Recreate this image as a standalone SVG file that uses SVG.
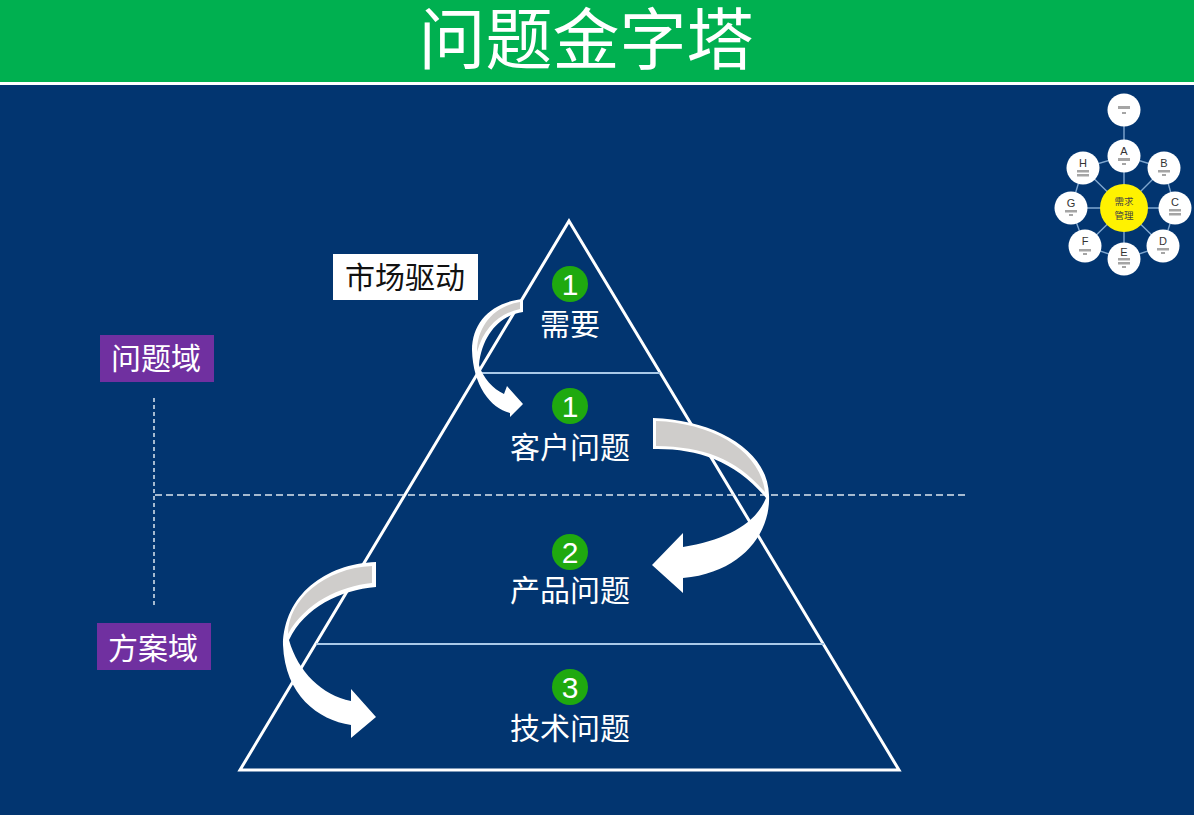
<svg xmlns="http://www.w3.org/2000/svg" width="1194" height="815" viewBox="0 0 1194 815">
<style>
text{font-family:"Noto Sans CJK SC","Noto Sans",sans-serif;text-anchor:middle}
.lbl{font-size:30px;fill:#fff}
.num{font-size:30px;fill:#fff;font-family:"Liberation Sans",sans-serif}
.badge{fill:#1FA90F}
.thin{stroke:#A9C9E8;stroke-width:2;fill:none}
.dash{stroke:#DDE6F0;stroke-width:1.5;fill:none}
.white{fill:#fff}
.grey{fill:#CFCDCB}
.hub{stroke:#7FA6CF;stroke-width:1.4;fill:none}
.sat{fill:#fff}
.let{font-size:11px;fill:#333;font-family:"Liberation Sans",sans-serif}
.mark{fill:#a5a5a5}
</style>
<rect width="1194" height="815" fill="#023570"/>
<g id="header">
<rect width="1194" height="82" fill="#00B050"/>
<rect y="82" width="1194" height="3" fill="#fff"/>
<text x="586" y="64" font-size="67" fill="#fff">问题金字塔</text>
</g>
<g id="pyramid">
<path d="M569 221L899 770H240Z" fill="none" stroke="#fff" stroke-width="3"/>
</g>
<g id="connectors">
<path class="thin" d="M480 373H660M316 644H824"/>
<path class="dash" d="M155 495H965" stroke-dasharray="7 4"/>
<path class="dash" d="M154 398V605" stroke-dasharray="4 3"/>
<path class="white" d="M523 299L523 312C500 315 482 335 479 365C483 378 493 389 504 394L507 386L523 404L510 417L510 413C490 408 473 385 472 350C472 322 492 302 523 299Z"/>
<path class="grey" d="M520 302L520 309C498 314 484 328 477 352C477 326 494 306 520 302Z"/>
<path class="white" d="M653 418C715 420 768 450 769 495C771 530 745 572 683 578V593L652 565L683 533V547C725 540 755 525 766 498C735 460 695 448 653 449Z"/>
<path class="grey" d="M656 421C712 423 760 450 765 492C735 458 705 447 656 446Z"/>
<path class="white" d="M376 562V587C340 590 305 607 289 640C298 672 322 695 351 701V689L376 717L351 738V725C318 720 285 695 283 645C284 595 325 564 376 562Z"/>
<path class="grey" d="M372 566V583C340 586 305 603 288 634C288 600 325 568 372 566Z"/>
</g>
<g id="n-need">
<circle class="badge" cx="570" cy="284" r="18"/><text class="num" x="570" y="295">1</text>
<text class="lbl" x="570" y="335">需要</text>
</g>
<g id="n-customer">
<circle class="badge" cx="570" cy="406" r="18"/><text class="num" x="570" y="417">1</text>
<text class="lbl" x="570" y="458">客户问题</text>
</g>
<g id="n-product">
<circle class="badge" cx="570" cy="552" r="18"/><text class="num" x="570" y="563">2</text>
<text class="lbl" x="570" y="601">产品问题</text>
</g>
<g id="n-tech">
<circle class="badge" cx="570" cy="687" r="18"/><text class="num" x="570" y="698">3</text>
<text class="lbl" x="570" y="739">技术问题</text>
</g>
<g id="n-market">
<rect x="333" y="254" width="145" height="46" fill="#fff"/>
<text x="405" y="288" font-size="30" fill="#111">市场驱动</text>
</g>
<g id="n-problem-domain">
<rect x="100" y="335" width="114" height="47" fill="#7030A0"/>
<text class="lbl" x="156" y="369">问题域</text>
</g>
<g id="n-solution-domain">
<rect x="97" y="623" width="114" height="47" fill="#7030A0"/>
<text class="lbl" x="153" y="659">方案域</text>
</g>
<g id="mini-links">
<path class="hub" d="M1124 110V208M1124 208L1164 168M1124 208H1175M1124 208L1163 246M1124 208V259M1124 208L1085 246M1124 208H1071M1124 208L1083 168M1124 156L1164 168L1175 208L1163 246L1124 259L1085 246L1071 208L1083 168Z"/>
</g>
<g id="mini-top"><circle class="sat" cx="1124" cy="110" r="16.500"/><rect class="mark" x="1118" y="106" width="12" height="3"/><rect class="mark" x="1122" y="112" width="4" height="2"/></g>
<g id="mini-a"><circle class="sat" cx="1124" cy="156" r="16.500"/><text class="let" x="1124" y="155">A</text><rect class="mark" x="1118" y="158" width="12" height="3"/><rect class="mark" x="1122" y="163" width="4" height="2"/></g>
<g id="mini-b"><circle class="sat" cx="1164" cy="168" r="16.500"/><text class="let" x="1164" y="167">B</text><rect class="mark" x="1158" y="170" width="12" height="2.500"/><rect class="mark" x="1162" y="174" width="4" height="2"/></g>
<g id="mini-c"><circle class="sat" cx="1175" cy="208" r="16.500"/><text class="let" x="1175" y="206">C</text><rect class="mark" x="1169" y="209" width="12" height="2.500"/><rect class="mark" x="1169" y="213" width="12" height="2.500"/></g>
<g id="mini-d"><circle class="sat" cx="1163" cy="246" r="16.500"/><text class="let" x="1163" y="245">D</text><rect class="mark" x="1157" y="248" width="12" height="2.500"/><rect class="mark" x="1161" y="252" width="4" height="2"/></g>
<g id="mini-e"><circle class="sat" cx="1124" cy="259" r="16.500"/><text class="let" x="1124" y="256">E</text><rect class="mark" x="1118" y="258" width="12" height="2.500"/><rect class="mark" x="1118" y="262" width="12" height="2.500"/><rect class="mark" x="1122" y="266" width="4" height="2"/></g>
<g id="mini-f"><circle class="sat" cx="1085" cy="246" r="16.500"/><text class="let" x="1085" y="245">F</text><rect class="mark" x="1079" y="249" width="12" height="2.500"/><rect class="mark" x="1083" y="253" width="4" height="2"/></g>
<g id="mini-g"><circle class="sat" cx="1071" cy="208" r="16.500"/><text class="let" x="1071" y="207">G</text><rect class="mark" x="1065" y="210" width="12" height="2.500"/><rect class="mark" x="1069" y="214" width="4" height="2"/></g>
<g id="mini-h"><circle class="sat" cx="1083" cy="168" r="16.500"/><text class="let" x="1083" y="167">H</text><rect class="mark" x="1077" y="170" width="12" height="2.500"/><rect class="mark" x="1077" y="174" width="12" height="2.500"/></g>
<g id="mini-hub"><circle cx="1124" cy="208" r="24" fill="#FFF200"/>
<text x="1124" y="205" font-size="9.500" fill="#444">需求</text><text x="1124" y="219" font-size="9.500" fill="#444">管理</text></g>
</svg>
